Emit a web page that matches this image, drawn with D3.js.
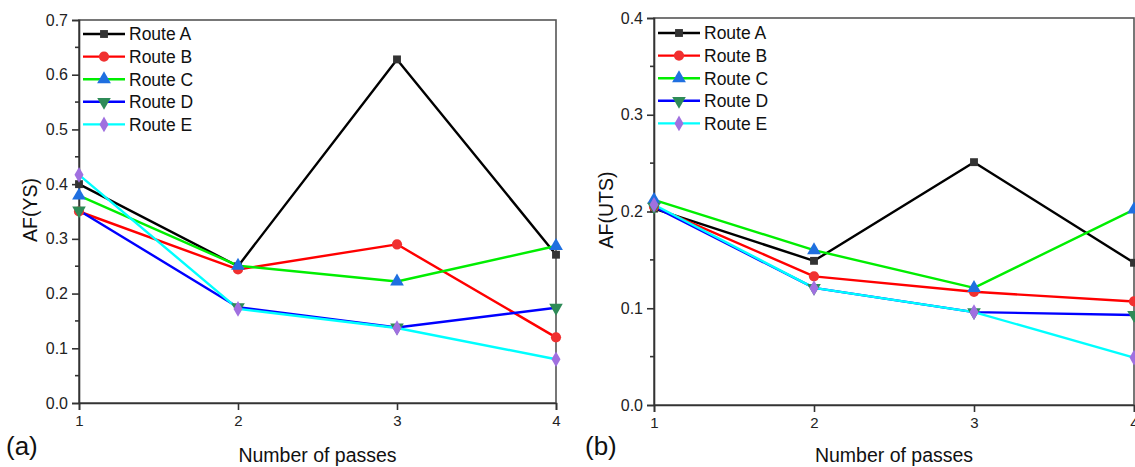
<!DOCTYPE html>
<html>
<head>
<meta charset="utf-8">
<script src="https://cdn.jsdelivr.net/npm/d3@7"></script>
<style>
  body { margin: 0; background: #fff; }
  svg { font-family: Arial, "Liberation Sans", sans-serif; }
</style>
</head>
<body>
<svg id="chart" width="1135" height="467"></svg>
<script>
const passes = [1, 2, 3, 4];
const routeNames = ["Route A", "Route B", "Route C", "Route D", "Route E"];

// AF(YS) per route
const ysA = [0.400, 0.250, 0.628, 0.271];
const ysB = [0.350, 0.244, 0.290, 0.120];
const ysC = [0.379, 0.251, 0.222, 0.287];
const ysD = [0.352, 0.175, 0.138, 0.174];
const ysE = [0.417, 0.172, 0.137, 0.080];

// AF(UTS) per route
const utsA = [0.203, 0.149, 0.251, 0.147];
const utsB = [0.205, 0.133, 0.117, 0.107];
const utsC = [0.212, 0.160, 0.121, 0.202];
const utsD = [0.205, 0.121, 0.096, 0.093];
const utsE = [0.207, 0.121, 0.096, 0.049];

const ysTicks = [0.0, 0.1, 0.2, 0.3, 0.4, 0.5, 0.6, 0.7];
const utsTicks = [0.0, 0.1, 0.2, 0.3, 0.4];

const lineColors = ["#000000", "#ff0000", "#00ee00", "#0000ff", "#00ffff"];
const markerColors = ["#333333", "#f03030", "#1f6fe0", "#2e8b57", "#a070e0"];
const markerShapes = [d3.symbolSquare, d3.symbolCircle, d3.symbolTriangle, "down", d3.symbolDiamond];

const svg = d3.select("#chart");

function marker(g, i, x, y) {
  const shape = markerShapes[i];
  if (shape === "down") {
    g.append("path")
      .attr("d", d3.symbol().type(d3.symbolTriangle).size(80)())
      .attr("transform", "translate(" + x + "," + y + ") rotate(180)")
      .attr("fill", markerColors[i]);
  } else {
    const size = shape === d3.symbolSquare ? 62 : (shape === d3.symbolDiamond ? 70 : 82);
    g.append("path")
      .attr("d", d3.symbol().type(shape).size(size)())
      .attr("transform", "translate(" + x + "," + y + ")")
      .attr("fill", markerColors[i]);
  }
}

function drawPanel(opts) {
  const x = d3.scaleLinear().domain([1, 4]).range([opts.left, opts.right]);
  const y = d3.scaleLinear().domain([0, opts.yMax]).range([opts.bottom, opts.top]);
  const g = svg.append("g");

  // frame
  g.append("rect")
    .attr("x", opts.left)
    .attr("y", opts.top)
    .attr("width", opts.right - opts.left)
    .attr("height", opts.bottom - opts.top)
    .attr("fill", "none")
    .attr("stroke", "#555")
    .attr("stroke-width", 1.6);

  // y axis
  const yAxis = g.append("g")
    .attr("transform", "translate(" + opts.left + ",0)")
    .call(d3.axisLeft(y).tickValues(opts.ticks).tickSize(7).tickPadding(4).tickFormat(d3.format(".1f")));
  yAxis.select(".domain").attr("stroke", "#333").attr("stroke-width", 1.6);
  yAxis.selectAll(".tick line").attr("stroke", "#333").attr("stroke-width", 1.6);
  yAxis.selectAll("text").attr("font-size", "16px").attr("fill", "#222")
    .attr("font-family", "Arial, 'Liberation Sans', sans-serif");

  const minor = d3.range(0.05, opts.yMax, 0.1);
  g.selectAll(".minor")
    .data(minor)
    .enter()
    .append("line")
    .attr("x1", opts.left - 4)
    .attr("x2", opts.left)
    .attr("y1", d => y(d))
    .attr("y2", d => y(d))
    .attr("stroke", "#333")
    .attr("stroke-width", 1.6);

  // x axis
  const xAxis = g.append("g")
    .attr("transform", "translate(0," + opts.bottom + ")")
    .call(d3.axisBottom(x).tickValues(passes).tickSize(7).tickPadding(5).tickFormat(d3.format("d")));
  xAxis.select(".domain").attr("stroke", "#333").attr("stroke-width", 1.6);
  xAxis.selectAll(".tick line").attr("stroke", "#333").attr("stroke-width", 1.6);
  xAxis.selectAll("text").attr("font-size", "15px").attr("fill", "#222")
    .attr("font-family", "Arial, 'Liberation Sans', sans-serif");

  // series
  const line = d3.line()
    .x((d, i) => x(passes[i]))
    .y(d => y(d));

  opts.series.forEach((values, i) => {
    g.append("path")
      .attr("d", line(values))
      .attr("fill", "none")
      .attr("stroke", lineColors[i])
      .attr("stroke-width", 2.4)
      .attr("stroke-linejoin", "round");
  });
  opts.series.forEach((values, i) => {
    values.forEach((v, j) => marker(g, i, x(passes[j]), y(v)));
  });

  // legend
  routeNames.forEach((name, i) => {
    const ly = opts.legendY + i * 22.6;
    g.append("line")
      .attr("x1", opts.legendX)
      .attr("x2", opts.legendX + 42)
      .attr("y1", ly)
      .attr("y2", ly)
      .attr("stroke", lineColors[i])
      .attr("stroke-width", 2.4);
    marker(g, i, opts.legendX + 21, ly);
    g.append("text")
      .attr("x", opts.legendX + 46)
      .attr("y", ly + 6.3)
      .attr("font-size", "17.5px")
      .attr("fill", "#111")
      .text(name);
  });

  // titles
  g.append("text")
    .attr("transform", "translate(" + opts.yLabelX + ",210) rotate(-90)")
    .attr("text-anchor", "middle")
    .attr("font-size", "19.5px")
    .attr("fill", "#111")
    .text(opts.yLabel);

  g.append("text")
    .attr("x", (opts.left + opts.right) / 2)
    .attr("y", 462)
    .attr("text-anchor", "middle")
    .attr("font-size", "19.5px")
    .attr("fill", "#111")
    .text("Number of passes");

  g.append("text")
    .attr("x", opts.tagX)
    .attr("y", 455)
    .attr("font-size", "26px")
    .attr("fill", "#111")
    .text(opts.tag);
}

drawPanel({
  left: 79, right: 556, top: 20, bottom: 403,
  yMax: 0.7, ticks: ysTicks,
  series: [ysA, ysB, ysC, ysD, ysE],
  legendX: 83, legendY: 34,
  yLabel: "AF(YS)", yLabelX: 37,
  tag: "(a)", tagX: 6
});

drawPanel({
  left: 654, right: 1134, top: 18, bottom: 405,
  yMax: 0.4, ticks: utsTicks,
  series: [utsA, utsB, utsC, utsD, utsE],
  legendX: 658, legendY: 33,
  yLabel: "AF(UTS)", yLabelX: 613,
  tag: "(b)", tagX: 585
});
</script>
</body>
</html>
